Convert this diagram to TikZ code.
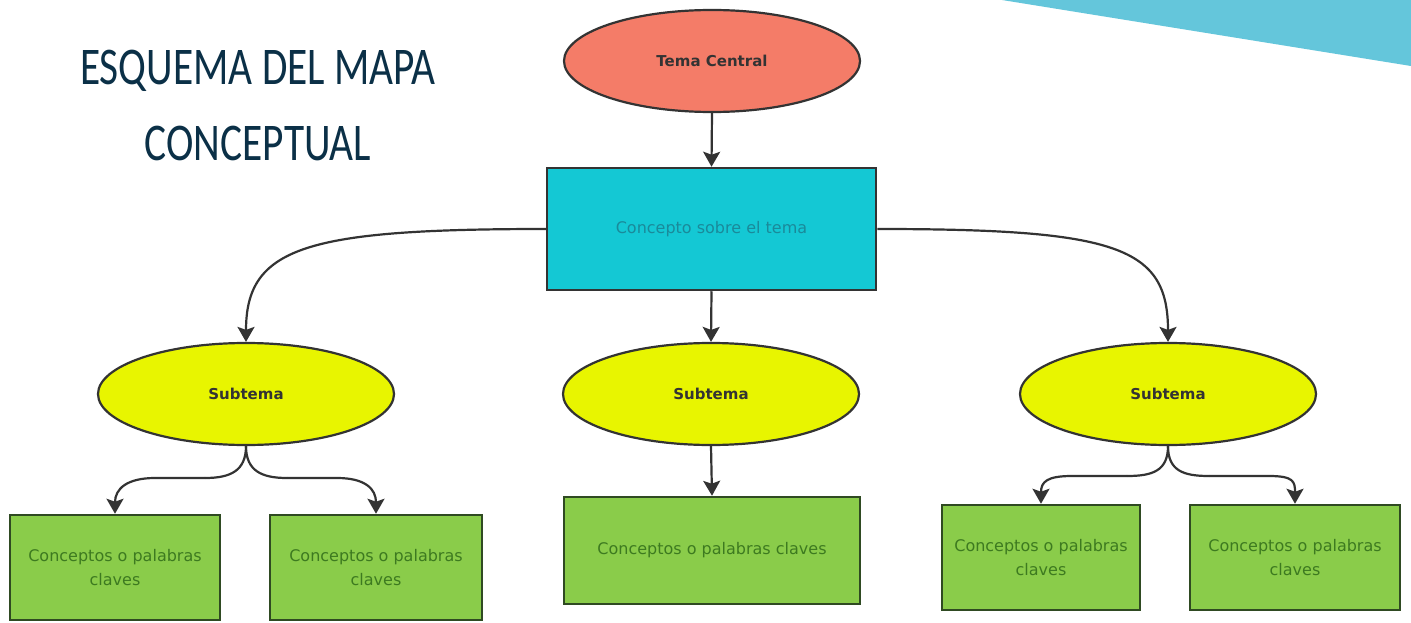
\documentclass[tikz,border=0pt]{standalone}
\usepackage{fontspec}
\setmainfont{DejaVu Sans}
\newfontfamily\titlefont[FakeStretch=0.78]{Carlito}
\usetikzlibrary{shapes.geometric,arrows.meta}
\definecolor{navy}{HTML}{0B3047}
\definecolor{teal}{HTML}{64C6DB}
\definecolor{salmon}{HTML}{F47C68}
\definecolor{cyanbox}{HTML}{14C8D4}
\definecolor{cyantext}{HTML}{1A8A9A}
\definecolor{yel}{HTML}{E8F500}
\definecolor{grn}{HTML}{8ACC4A}
\definecolor{grntext}{HTML}{3D7A20}
\definecolor{grnline}{HTML}{2F4A22}
\definecolor{lin}{HTML}{333333}
\tikzset{
  oval/.style={ellipse, draw=lin, line width=2.2pt, minimum width=296pt, minimum height=102pt, inner sep=0pt, font=\bfseries\fontsize{15}{18}\selectfont, text=black!80},
  keybox/.style={rectangle, draw=grnline, line width=2.5pt, fill=grn, text=grntext, align=center, inner sep=0pt, font=\fontsize{16}{24}\selectfont},
  arr/.style={draw=lin, line width=2.2pt, -{Stealth[length=15pt,width=17pt,inset=3pt]}},
  plain/.style={draw=lin, line width=2.2pt},
}
\begin{document}
\begin{tikzpicture}[x=1pt,y=-1pt]
\useasboundingbox[fill=white] (0,0) rectangle (1411,623);
\fill[teal] (1002,0) -- (1411,0) -- (1411,66) -- cycle;
\node[text=navy, font=\titlefont\fontsize{53}{76}\selectfont, align=center] (title) at (258,105) {ESQUEMA DEL MAPA\\CONCEPTUAL};
\node[oval, fill=salmon] (tema) at (712,61) {Tema Central};
\node[rectangle, draw=lin, line width=2.5pt, fill=cyanbox, text=cyantext, minimum width=329pt, minimum height=122pt, inner sep=0pt, font=\fontsize{16}{20}\selectfont] (conc) at (711.5,229) {Concepto sobre el tema};
\node[oval, fill=yel] (s1) at (246,394) {Subtema};
\node[oval, fill=yel] (s2) at (711,394) {Subtema};
\node[oval, fill=yel] (s3) at (1168,394) {Subtema};
\node[keybox, minimum width=210pt, minimum height=105pt] (b1) at (115,567.5) {Conceptos o palabras\\claves};
\node[keybox, minimum width=212pt, minimum height=105pt] (b2) at (376,567.5) {Conceptos o palabras\\claves};
\node[keybox, minimum width=296pt, minimum height=107pt] (b3) at (712,550.5) {Conceptos o palabras claves};
\node[keybox, minimum width=198pt, minimum height=105pt] (b4) at (1041,557.5) {Conceptos o palabras\\claves};
\node[keybox, minimum width=210pt, minimum height=105pt] (b5) at (1295,557.5) {Conceptos o palabras\\claves};
\draw[arr] (tema.south) -- (conc.north);
\draw[arr] (conc.south) -- (s2.north);
\draw[arr] (s2.south) -- (b3.north);
\draw[arr] (conc.west) .. controls +(-240,0) and +(0,-95) .. (s1.north);
\draw[arr] (conc.east) .. controls +(240,0) and +(0,-95) .. (s3.north);
\coordinate (l1) at (205,478);
\coordinate (l2) at (287,478);
\coordinate (r1) at (1127,476);
\coordinate (r2) at (1209,476);
\draw[plain] (s1.south) .. controls +(0,25) and +(25,0) .. (l1);
\draw[arr] (l1) -- ++(-50,0) .. controls +(-28,0) and +(0,-25) .. (b1.north);
\draw[plain] (s1.south) .. controls +(0,25) and +(-25,0) .. (l2);
\draw[arr] (l2) -- ++(50,0) .. controls +(28,0) and +(0,-25) .. (b2.north);
\draw[plain] (s3.south) .. controls +(0,25) and +(25,0) .. (r1);
\draw[arr] (r1) -- ++(-55,0) .. controls +(-25,0) and +(0,-22) .. (b4.north);
\draw[plain] (s3.south) .. controls +(0,25) and +(-25,0) .. (r2);
\draw[arr] (r2) -- ++(60,0) .. controls +(25,0) and +(0,-22) .. (b5.north);
\end{tikzpicture}
\end{document}
